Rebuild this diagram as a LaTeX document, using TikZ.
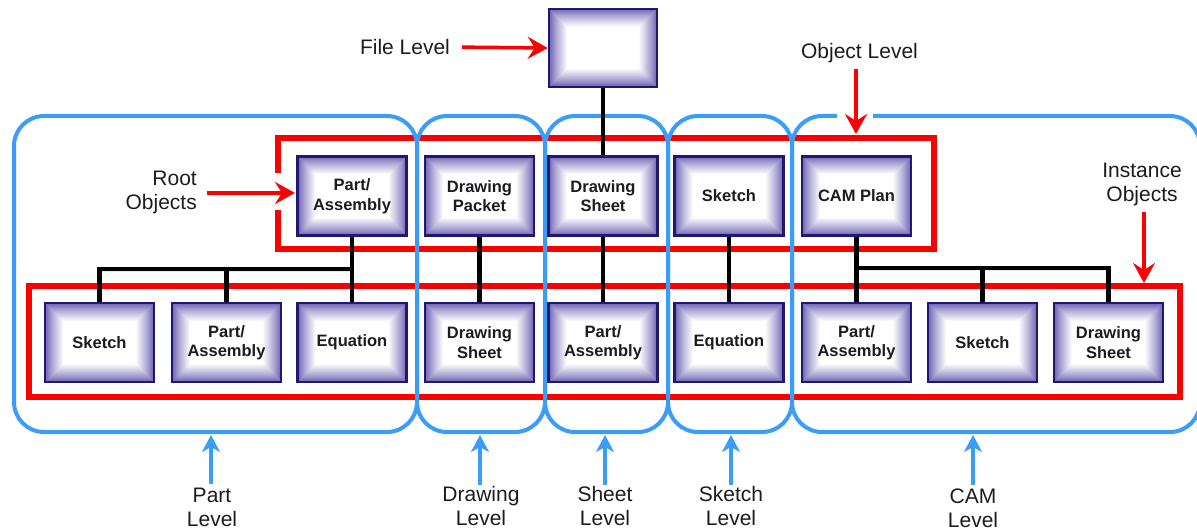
\documentclass[tikz,border=0pt]{standalone}
\usepackage{fontspec}
\setmainfont{Liberation Sans}
\usetikzlibrary{arrows.meta,backgrounds}
\definecolor{objnavy}{RGB}{32,24,112}
\definecolor{objlav}{RGB}{108,96,178}
\definecolor{lvlblue}{RGB}{58,158,248}
\definecolor{redc}{RGB}{250,0,0}
\definecolor{txt}{RGB}{28,28,32}
\definecolor{shade}{RGB}{232,232,232}
\begin{document}
\begin{tikzpicture}[x=1pt,y=-1pt,
 obj/.style={draw=objnavy, line width=2.6pt, minimum width=109pt, minimum height=79pt,
   inner sep=0pt, align=center, text=txt, font=\fontsize{16.5}{19.5}\selectfont\bfseries,
   path picture={
     \foreach \i in {0,...,36}{
       \pgfmathtruncatemacro\p{100*(\i/36)^0.85}
       \fill[white!\p!objlav] ([shift={(\i*0.5pt,\i*0.5pt)}]path picture bounding box.south west)
         rectangle ([shift={(-\i*0.5pt,-\i*0.5pt)}]path picture bounding box.north east);
     }
   }},
 lbl/.style={align=center, text=txt, font=\fontsize{21}{24}\selectfont, inner sep=0pt},
 lvl/.style={draw=lvlblue, line width=4pt, rounded corners=30pt},
 grp/.style={draw=redc, line width=5.5pt, line join=miter},
 conn/.style={draw=black, line width=4.5pt},
 connshade/.style={draw=shade, line width=5pt},
 redarrow/.style={draw=redc, line width=3.5pt, -{Stealth[length=20pt,width=22pt,inset=7pt]}},
 bluearrow/.style={draw=lvlblue, line width=4pt, -{Stealth[length=17pt,width=18pt,inset=5pt]}}
]
\useasboundingbox (0,0) rectangle (1197,532);

% nodes
\node[obj, minimum width=108pt, minimum height=78pt] (file) at (603,48) {};
\node[obj] (r1) at (352,196) {Part/\\Assembly};
\node[obj] (r2) at (479.5,196) {Drawing\\Packet};
\node[obj] (r3) at (603,196) {Drawing\\Sheet};
\node[obj] (r4) at (729,196) {Sketch};
\node[obj] (r5) at (856.5,196) {CAM Plan};

\node[obj] (i1) at (99.5,342.5) {Sketch};
\node[obj] (i2) at (226.5,342.5) {Part/\\Assembly};
\node[obj] (i3) at (352,342.5) {Equation};
\node[obj] (i4) at (479.5,342.5) {Drawing\\Sheet};
\node[obj] (i5) at (603,342.5) {Part/\\Assembly};
\node[obj] (i6) at (729,342.5) {Equation};
\node[obj] (i7) at (856.5,342.5) {Part/\\Assembly};
\node[obj] (i8) at (982.5,342.5) {Sketch};
\node[obj] (i9) at (1108.5,342.5) {Drawing\\Sheet};

\coordinate (busL) at (352,269);
\coordinate (busR) at (856.5,268);

\begin{pgfonlayer}{background}
% red group frames
\draw[grp] (278,173) -- (278,138) -- (934,138) -- (934,249) -- (278,249) -- (278,210);
\draw[grp] (29,286) rectangle (1180,397);

% blue level frames
\draw[lvl] (14,116) rectangle (417,432);
\draw[lvl] (417,116) rectangle (545,432);
\draw[lvl] (545,116) rectangle (668,432);
\draw[lvl] (668,116) rectangle (792,432);
\draw[lvl] (873,116) -- (1200,116) -- (1200,432) -- (792,432) -- (792,116) -- (837,116);

% connector shading
\begin{scope}[xshift=5pt,yshift=-4pt]
\draw[connshade] (busL) -| (i1.north);
\draw[connshade] (busL) -| (i2.north);
\draw[connshade] (busR) -| (i9.north);
\draw[connshade] (busR) -| (i8.north);
\end{scope}

% connectors
\draw[conn] (r1.south) -- (busL) -| (i1.north);
\draw[conn] (busL) -| (i2.north);
\draw[conn] (busL) -- (i3.north);
\draw[conn] (r2.south) -- (i4.north);
\draw[conn] (file.south) -- (r3.north);
\draw[conn] (r3.south) -- (i5.north);
\draw[conn] (r4.south) -- (i6.north);
\draw[conn] (r5.south) -- (busR) -| (i9.north);
\draw[conn] (busR) -| (i8.north);
\draw[conn] (busR) -- (i7.north);
\end{pgfonlayer}

% labels
\node[lbl] (fileL) at (405,47) {File Level};
\node[lbl] (objL) at (859.5,53) {Object Level};
\node[lbl, align=right, anchor=east] (rootL) at (197,192) {Root\\Objects};
\node[lbl] (instL) at (1142,184) {Instance\\Objects};
\node[lbl] (partL) at (212,507) {Part\\Level};
\node[lbl] (drawL) at (481,506) {Drawing\\Level};
\node[lbl] (sheetL) at (605,506) {Sheet\\Level};
\node[lbl] (sketchL) at (731,506) {Sketch\\Level};
\node[lbl] (camL) at (973,508) {CAM\\Level};

\coordinate (objT) at (856,134);
\coordinate (rootT) at (295,193);
\coordinate (instT) at (1144,283);
\coordinate (partT) at (211,435);
\coordinate (drawT) at (480,435);
\coordinate (sheetT) at (605,435);
\coordinate (sketchT) at (731,435);
\coordinate (camT) at (973,435);

% red arrows
\draw[redarrow, shorten <=12pt] (fileL.east) -- (file.west);
\draw[redarrow] (objL.south -| objT) ++(0,6) -- (objT);
\draw[redarrow] (rootL.east |- rootT) ++(10,0) -- (rootT);
\draw[redarrow] (instL.south -| instT) ++(0,6) -- (instT);

% blue arrows
\draw[bluearrow] (partL.north -| partT) ++(0,-3) -- (partT);
\draw[bluearrow] (drawL.north -| drawT) ++(0,-1) -- (drawT);
\draw[bluearrow] (sheetL.north -| sheetT) ++(0,-1) -- (sheetT);
\draw[bluearrow] (sketchL.north -| sketchT) ++(0,-1) -- (sketchT);
\draw[bluearrow] (camL.north -| camT) ++(0,-3) -- (camT);
\end{tikzpicture}
\end{document}
